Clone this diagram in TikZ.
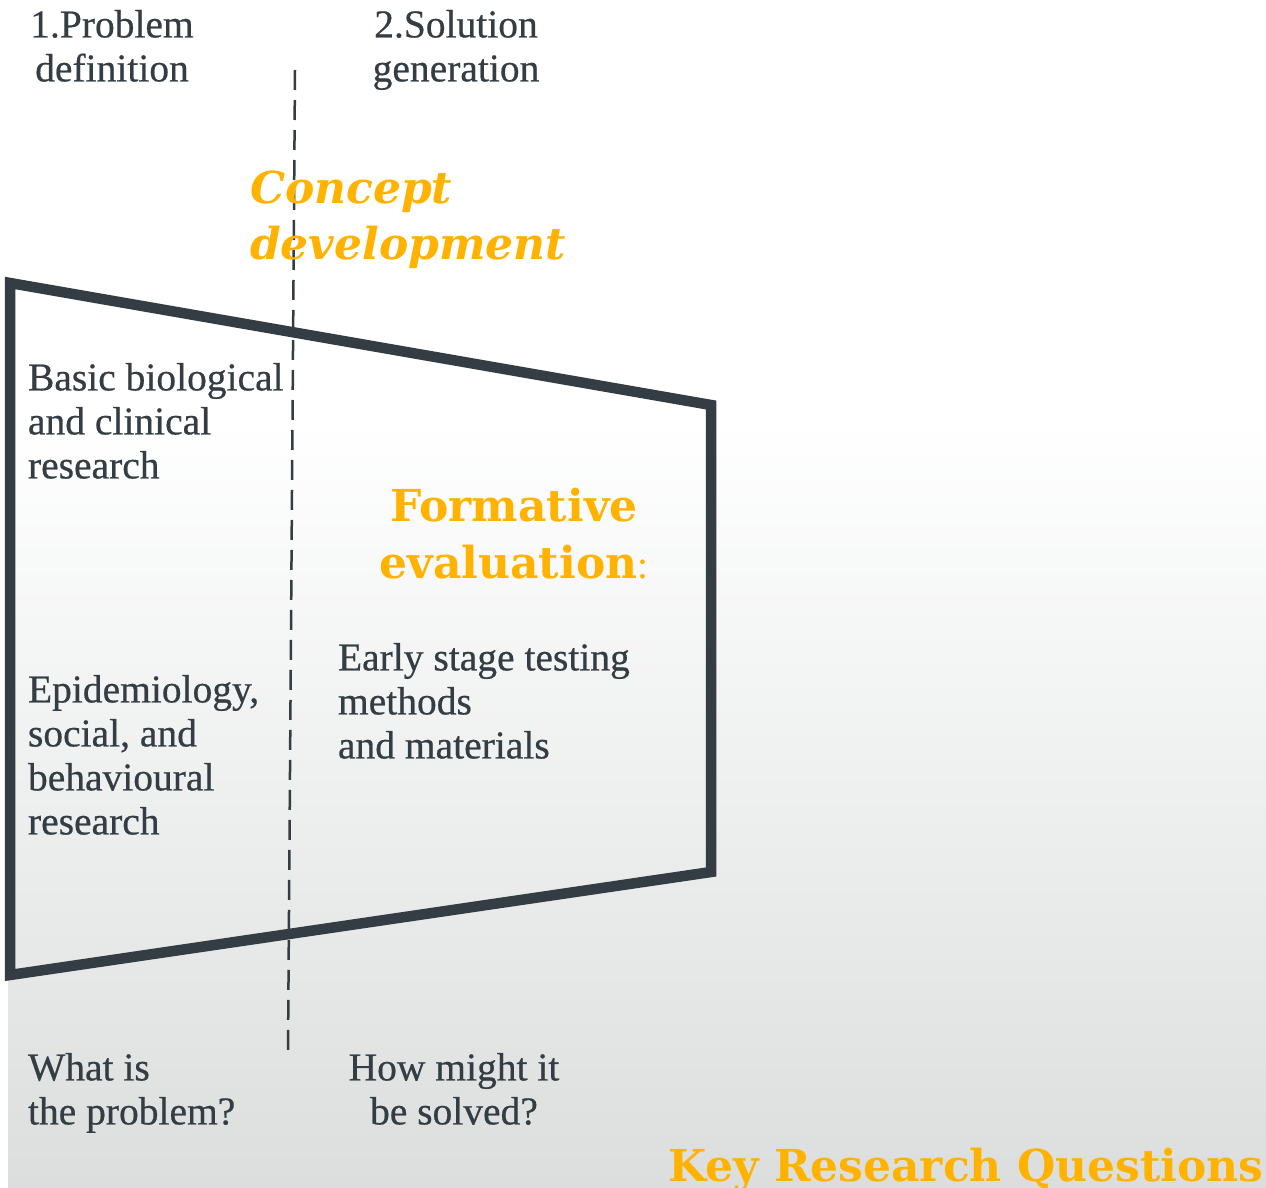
\documentclass[tikz,border=0pt]{standalone}
\usepackage{fontspec}
\setmainfont{Liberation Serif}[FakeBold=0.5]
\newfontfamily\hdfont{DejaVu Serif}
\newfontfamily\colonfont{Liberation Serif}
\definecolor{ink}{HTML}{333D43}
\definecolor{accent}{HTML}{FFB300}
\definecolor{bggray}{HTML}{DCDEDE}
\begin{document}
\begin{tikzpicture}[x=1pt,y=-1pt,
  txt/.style={inner sep=0pt, outer sep=0pt, anchor=north west, align=left, text=ink,
    font=\fontsize{39.5}{44}\selectfont},
  ctxt/.style={txt, anchor=north, align=center},
  hd/.style={inner sep=0pt, outer sep=0pt, anchor=north west, align=left, text=accent,
    font=\hdfont\bfseries\fontsize{44}{57}\selectfont},
  hdi/.style={hd, font=\hdfont\bfseries\itshape\fontsize{44}{56}\selectfont},
  frame/.style={draw=ink, line width=10.5pt, line join=miter},
  divider/.style={draw=ink, line width=2.5pt, dash pattern=on 20pt off 10pt}]
\useasboundingbox (0,0) rectangle (1266,1188);
\fill[white] (0,0) rectangle (1266,1188);
% background gradient
\shade[top color=white, bottom color=bggray] (8,420) rectangle (1266,1188);
% frame
\coordinate (tl) at (10,283);
\coordinate (tr) at (711,405);
\coordinate (br) at (711,872);
\coordinate (bl) at (10,975);
\draw[frame] (tl) -- (tr) -- (br) -- (bl) -- cycle;
% divider
\coordinate (dtop) at (295,70);
\coordinate (dbot) at (288,1052);
\draw[divider] (dtop) -- (dbot);
% texts
\node[ctxt] (prob) at (112,10) {1.Problem\\definition};
\node[ctxt] (sol) at (456,10) {2.Solution\\generation};
\node[hdi] (concept) at (250,171) {Concept\\development};
\node[hd, anchor=north, align=center] (formative) at (514,488) {Formative\\evaluation{\colonfont\mdseries\upshape\fontsize{39.5}{44}\selectfont:}};
\node[txt] (basic) at (28,363) {Basic biological\\and clinical\\research};
\node[txt] (early) at (338,643) {Early stage testing\\methods\\and materials};
\node[txt] (epi) at (28,675) {Epidemiology,\\social, and\\behavioural\\research};
\node[txt] (what) at (28,1053) {What is\\the problem?};
\node[ctxt] (how) at (454,1053) {How might it\\be solved?};
\node[hd] (krq) at (668,1148) {Key Research Questions};
\end{tikzpicture}
\end{document}
